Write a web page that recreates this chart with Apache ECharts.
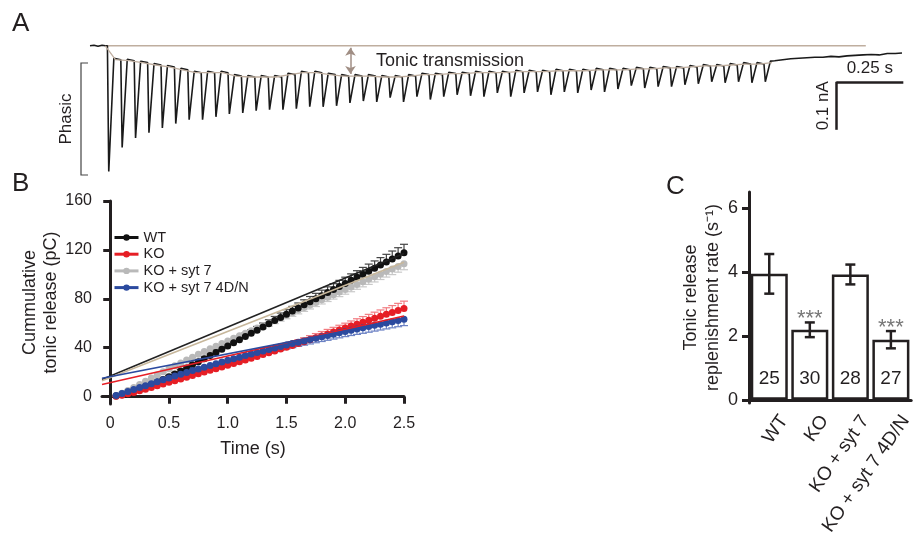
<!DOCTYPE html>
<html>
<head>
<meta charset="utf-8">
<style>html,body{margin:0;padding:0;background:#fff}#main{width:921px;height:544px}</style>
<script src="https://cdn.jsdelivr.net/npm/echarts@6/dist/echarts.min.js"></script>
</head>
<body>
<div id="main"></div>
<script>
const FONT = 'Liberation Sans, Arial, Helvetica, sans-serif'
const INK = '#231f20'
const TAN = '#bfae9f'

// ---- A: 20 Hz train, 50 stimuli (s, pA) ----
const stimTimes = [0, 0.05, 0.1, 0.15, 0.2, 0.25, 0.3, 0.35, 0.4, 0.45, 0.5, 0.55, 0.6, 0.65, 0.7, 0.75, 0.8, 0.85, 0.9, 0.95,
  1, 1.05, 1.1, 1.15, 1.2, 1.25, 1.3, 1.35, 1.4, 1.45, 1.5, 1.55, 1.6, 1.65, 1.7, 1.75, 1.8, 1.85, 1.9, 1.95,
  2, 2.05, 2.1, 2.15, 2.2, 2.25, 2.3, 2.35, 2.4, 2.45]
const peakAmps = [-262, -212, -192, -181, -171, -162, -154, -154, -148, -142, -140, -135, -133, -133, -131, -127, -127, -125, -119, -115,
  -117, -108, -117, -106, -112, -106, -102, -104, -106, -98, -106, -98, -96, -102, -96, -98, -92, -96, -90, -83,
  -88, -85, -85, -81, -79, -75, -77, -75, -77, -75]
const tonicAmps = [-29, -31, -35, -40, -44, -50, -56, -56, -56, -63, -65, -65, -65, -60, -56, -56, -60, -63, -63, -63,
  -65, -65, -63, -60, -60, -58, -58, -56, -56, -56, -54, -54, -54, -52, -52, -52, -50, -50, -50, -48,
  -48, -46, -46, -44, -42, -42, -40, -38, -38, -35]
const baselineTrace = [[-0.065, 0], [-0.05, 1], [-0.035, -1], [-0.02, 1], [-0.008, 0]]
const recoveryTrace = [[2.49, -31], [2.52, -29], [2.55, -27], [2.58, -26], [2.61, -25], [2.64, -24], [2.67, -24], [2.7, -22],
  [2.73, -23], [2.76, -21], [2.79, -20], [2.82, -19], [2.85, -18], [2.88, -19], [2.91, -16], [2.94, -16], [2.965, -15]]
const scaleTime = 0.25
const scaleCurrent = 100

// ---- B: cumulative tonic release (pC) ----
const bTimes = [0.05, 0.1, 0.15, 0.2, 0.25, 0.3, 0.35, 0.4, 0.45, 0.5, 0.55, 0.6, 0.65, 0.7, 0.75, 0.8, 0.85, 0.9, 0.95, 1,
  1.05, 1.1, 1.15, 1.2, 1.25, 1.3, 1.35, 1.4, 1.45, 1.5, 1.55, 1.6, 1.65, 1.7, 1.75, 1.8, 1.85, 1.9, 1.95, 2,
  2.05, 2.1, 2.15, 2.2, 2.25, 2.3, 2.35, 2.4, 2.45, 2.5]
const wtCum = [0.5, 1.6, 3.0, 4.6, 6.3, 8.1, 10.0, 12.0, 14.1, 16.3, 18.6, 21.0, 23.5, 26.0, 28.5, 31.0, 33.6, 36.2, 38.8, 41.4,
  44.0, 46.6, 49.2, 51.8, 54.4, 57.0, 59.6, 62.2, 64.8, 67.4, 70.0, 72.6, 75.1, 77.6, 80.1, 82.6, 85.1, 87.6, 90.1, 92.6,
  95.1, 97.6, 100.1, 102.6, 105.1, 107.6, 110.1, 112.6, 115.1, 117.6]
const koCum = [0.3, 1.2, 2.3, 3.5, 4.8, 6.1, 7.5, 8.9, 10.3, 11.7, 13.1, 14.5, 15.9, 17.3, 18.7, 20.1, 21.5, 22.9, 24.3, 25.7,
  27.1, 28.5, 29.9, 31.4, 32.9, 34.4, 35.9, 37.4, 38.9, 40.4, 41.9, 43.4, 44.9, 46.5, 48.1, 49.7, 51.3, 52.9, 54.5, 56.1,
  57.7, 59.3, 60.9, 62.5, 64.1, 65.7, 67.3, 68.9, 70.5, 72.1]
const syt7Cum = [1.0, 2.8, 5.0, 7.4, 10.0, 12.6, 15.2, 17.8, 20.3, 22.8, 25.2, 27.6, 30.0, 32.3, 34.6, 36.9, 39.1, 41.3, 43.5, 45.6,
  47.7, 49.8, 51.9, 54.0, 56.1, 58.2, 60.3, 62.4, 64.5, 66.6, 68.7, 70.8, 72.9, 75.0, 77.1, 79.2, 81.3, 83.4, 85.5, 87.6,
  89.7, 91.8, 93.9, 96.0, 98.1, 100.2, 102.3, 104.4, 106.5, 108.6]
const dnCum = [1.0, 2.6, 4.2, 5.8, 7.4, 9.0, 10.6, 12.2, 13.8, 15.3, 16.8, 18.3, 19.8, 21.3, 22.7, 24.1, 25.5, 26.9, 28.3, 29.7,
  31.0, 32.3, 33.6, 34.9, 36.2, 37.4, 38.6, 39.8, 41.0, 42.2, 43.4, 44.5, 45.6, 46.7, 47.8, 48.9, 50.0, 51.1, 52.2, 53.3,
  54.3, 55.3, 56.3, 57.3, 58.3, 59.3, 60.3, 61.3, 62.3, 63.3]
const wtSem = [0.3, 0.4, 0.5, 0.6, 0.7, 0.8, 0.9, 1.0, 1.1, 1.2, 1.3, 1.4, 1.6, 1.7, 1.8, 1.9, 2.0, 2.2, 2.3, 2.4,
  2.5, 2.7, 2.8, 2.9, 3.0, 3.2, 3.3, 3.4, 3.6, 3.7, 3.8, 4.0, 4.1, 4.3, 4.4, 4.5, 4.7, 4.8, 5.0, 5.1,
  5.3, 5.4, 5.6, 5.8, 5.9, 6.1, 6.3, 6.5, 6.7, 7.0]
const koSem = [0.2, 0.3, 0.3, 0.4, 0.5, 0.6, 0.7, 0.8, 0.9, 1.0, 1.1, 1.2, 1.3, 1.4, 1.5, 1.6, 1.7, 1.8, 1.9, 2.0,
  2.1, 2.2, 2.3, 2.4, 2.5, 2.6, 2.7, 2.8, 2.9, 3.0, 3.1, 3.2, 3.3, 3.4, 3.5, 3.6, 3.7, 3.8, 3.9, 4.0,
  4.2, 4.4, 4.6, 4.8, 5.0, 5.2, 5.4, 5.6, 5.8, 6.0]
const syt7Sem = [0.3, 0.4, 0.5, 0.6, 0.7, 0.8, 0.9, 1.0, 1.0, 1.1, 1.2, 1.3, 1.4, 1.5, 1.6, 1.7, 1.8, 1.9, 2.0, 2.0,
  2.1, 2.2, 2.3, 2.4, 2.5, 2.6, 2.7, 2.7, 2.8, 2.9, 3.0, 3.1, 3.2, 3.3, 3.4, 3.4, 3.5, 3.6, 3.7, 3.8,
  3.9, 4.0, 4.1, 4.2, 4.3, 4.4, 4.5, 4.6, 4.7, 4.8]
const dnSem = [0.3, 0.4, 0.5, 0.6, 0.7, 0.8, 0.9, 1.0, 1.1, 1.2, 1.3, 1.4, 1.5, 1.6, 1.7, 1.8, 1.9, 2.0, 2.1, 2.2,
  2.3, 2.4, 2.5, 2.6, 2.7, 2.8, 2.9, 3.0, 3.1, 3.2, 3.3, 3.4, 3.5, 3.6, 3.7, 3.8, 3.9, 4.0, 4.1, 4.2,
  4.3, 4.4, 4.5, 4.6, 4.7, 4.8, 4.9, 5.0, 5.1, 5.2]
// linear fits, end points [t, pC]
const wtFit = [[-0.07, 14], [2.5, 117]]
const syt7Fit = [[-0.07, 13], [2.5, 110]]
const koFit = [[-0.07, 10], [2.5, 66]]
const dnFit = [[-0.07, 15], [2.5, 63]]
const bTicksX = [0, 0.5, 1, 1.5, 2, 2.5]
const bTicksY = [0, 40, 80, 120, 160]

// ---- C: replenishment rate ----
const cCats = ['WT', 'KO', 'KO + syt 7', 'KO + syt 7 4D/N']
const rateMean = [3.94, 2.19, 3.92, 1.88]
const rateSem = [0.62, 0.23, 0.31, 0.27]
const cellN = [25, 30, 28, 27]
const sigMarks = ['', '***', '', '***']
const cTicksY = [0, 2, 4, 6]

// build the trace: drop to each peak, relax back to the tonic level
const traceData = baselineTrace.slice()
let prevLevel = 0
stimTimes.forEach(function (t, i) {
  traceData.push([t, prevLevel], [t + 0.005, peakAmps[i]], [t + 0.024, tonicAmps[i] + 3], [t + 0.03, tonicAmps[i]])
  prevLevel = tonicAmps[i]
})
traceData.push.apply(traceData, recoveryTrace)
const envelope = [[-0.008, 0]].concat(stimTimes.map((t, i) => [t + 0.03, tonicAmps[i]]))

const chart = echarts.init(document.getElementById('main'))

function pairs (ys) { return bTimes.map((t, i) => [t, ys[i]]) }

function cumSeries (name, ys, color, z) {
  return {
    name: name, type: 'line', xAxisIndex: 1, yAxisIndex: 1, z: z,
    data: pairs(ys), symbol: 'circle', symbolSize: 7,
    lineStyle: { color: color, width: 1.5 }, itemStyle: { color: color }
  }
}

function errSeries (ys, errs, dir, color, z) {
  return {
    type: 'custom', xAxisIndex: 1, yAxisIndex: 1, z: z, silent: true,
    data: bTimes.map((t, i) => [t, ys[i], ys[i] + dir * errs[i]]),
    encode: { x: 0, y: [1, 2] },
    renderItem: function (params, api) {
      const a = api.coord([api.value(0), api.value(1)])
      const b = api.coord([api.value(0), api.value(2)])
      return {
        type: 'group',
        children: [
          { type: 'line', shape: { x1: a[0], y1: a[1], x2: b[0], y2: b[1] }, style: { stroke: color, lineWidth: 1.2 } },
          { type: 'line', shape: { x1: b[0] - 4, y1: b[1], x2: b[0] + 4, y2: b[1] }, style: { stroke: color, lineWidth: 1.2 } }
        ]
      }
    }
  }
}

function fitSeries (pts, color) {
  return {
    type: 'line', xAxisIndex: 1, yAxisIndex: 1, z: 6, silent: true,
    data: pts, showSymbol: false, lineStyle: { color: color, width: 1.6 }
  }
}

const axisLine = { lineStyle: { color: INK, width: 3 } }
const tickStyle = { lineStyle: { color: INK, width: 3 } }
const labelBase = { color: INK, fontFamily: FONT }

chart.setOption({
  animation: false,
  textStyle: { fontFamily: FONT },
  grid: [
    { left: 90, top: 41, width: 816, height: 144 },
    { left: 102, top: 201, width: 302, height: 203 },
    { left: 749, top: 192, width: 171, height: 211 }
  ],
  xAxis: [
    { gridIndex: 0, type: 'value', min: -0.065, max: 2.98, show: false },
    {
      gridIndex: 1, type: 'value', min: -0.07, max: 2.5,
      axisLine: axisLine, splitLine: { show: false },
      axisTick: Object.assign({ length: 7, customValues: bTicksX }, tickStyle),
      axisLabel: Object.assign({ fontSize: 16, margin: 12, customValues: bTicksX,
        formatter: v => v === 0 ? '0' : v.toFixed(1) }, labelBase),
      name: 'Time (s)', nameLocation: 'middle', nameGap: 36,
      nameTextStyle: Object.assign({ fontSize: 18 }, labelBase)
    },
    {
      gridIndex: 2, type: 'category', data: cCats,
      axisLine: axisLine,
      axisTick: Object.assign({ length: 9, alignWithLabel: false }, tickStyle),
      axisLabel: Object.assign({ fontSize: 19, rotate: 55, margin: 4, interval: 0, verticalAlign: 'top', lineHeight: 36 }, labelBase)
    }
  ],
  yAxis: [
    { gridIndex: 0, type: 'value', min: -290, max: 10, show: false },
    {
      gridIndex: 1, type: 'value', min: -6, max: 160,
      axisLine: Object.assign({ show: true }, axisLine), splitLine: { show: false },
      axisTick: Object.assign({ show: true, length: 7, customValues: bTicksY }, tickStyle),
      axisLabel: Object.assign({ fontSize: 16, margin: 10, customValues: bTicksY }, labelBase),
      name: 'Cummulative\ntonic release (pC)', nameLocation: 'middle', nameGap: 33,
      nameTextStyle: Object.assign({ fontSize: 18, lineHeight: 21 }, labelBase)
    },
    {
      gridIndex: 2, type: 'value', min: -0.1, max: 6.5,
      axisLine: Object.assign({ show: true }, axisLine), splitLine: { show: false },
      axisTick: Object.assign({ show: true, length: 7, customValues: cTicksY }, tickStyle),
      axisLabel: Object.assign({ fontSize: 18, margin: 11, customValues: cTicksY }, labelBase),
      name: 'Tonic release\nreplenishment rate (s⁻¹)', nameLocation: 'middle', nameGap: 24,
      nameTextStyle: Object.assign({ fontSize: 18, lineHeight: 22 }, labelBase)
    }
  ],
  legend: {
    data: ['WT', 'KO', 'KO + syt 7', 'KO + syt 7 4D/N'],
    orient: 'vertical', left: 113, top: 230, padding: 0,
    itemWidth: 24, itemHeight: 8, itemGap: 1.7,
    lineStyle: { width: 3 },
    textStyle: Object.assign({ fontSize: 14.5 }, labelBase)
  },
  graphic: [
    { type: 'text', left: 12, top: 11, style: { text: 'A', fontSize: 26, fill: INK, fontFamily: FONT } },
    { type: 'text', left: 12, top: 171, style: { text: 'B', fontSize: 26, fill: INK, fontFamily: FONT } },
    { type: 'text', left: 666, top: 174, style: { text: 'C', fontSize: 26, fill: INK, fontFamily: FONT } },
    { type: 'text', x: 376, y: 61, style: { text: 'Tonic transmission', fontSize: 18, fill: INK, fontFamily: FONT, verticalAlign: 'middle' } },
    { type: 'text', x: 66, y: 119, rotation: Math.PI / 2, style: { text: 'Phasic', fontSize: 17, fill: INK, fontFamily: FONT, align: 'center', verticalAlign: 'middle' } },
    { type: 'polyline', shape: { points: [[88, 63], [81, 63], [81, 175], [88, 175]] }, style: { stroke: '#444', lineWidth: 1.2, fill: null } }
  ],
  series: [
    // A
    {
      type: 'line', xAxisIndex: 0, yAxisIndex: 0, silent: true, z: 2,
      data: [[-0.008, 0], [2.83, 0]], showSymbol: false, lineStyle: { color: TAN, width: 1.5 }
    },
    {
      type: 'line', xAxisIndex: 0, yAxisIndex: 0, silent: true, z: 4,
      data: envelope, showSymbol: false, lineStyle: { color: TAN, width: 1.3 },
      markLine: {
        silent: true, symbol: ['arrow', 'arrow'], symbolSize: 8,
        lineStyle: { color: '#a08e84', width: 1.5, type: 'solid' }, label: { show: false },
        data: [[{ coord: [0.907, -4] }, { coord: [0.907, -59] }]]
      }
    },
    {
      type: 'line', xAxisIndex: 0, yAxisIndex: 0, silent: true, z: 3,
      data: traceData, showSymbol: false, lineStyle: { color: '#1a1a1a', width: 1.6 },
      markLine: {
        silent: true, symbol: 'none',
        lineStyle: { color: INK, width: 2.5, type: 'solid' },
        label: { fontSize: 17, color: INK, fontFamily: FONT },
        data: [
          [{ coord: [2.72, -75], label: { formatter: '0.25 s', position: 'insideMiddleTop' } }, { coord: [2.72 + scaleTime, -75] }],
          [{ coord: [2.72, -75 - scaleCurrent], label: { formatter: '0.1 nA', position: 'insideMiddleTop' } }, { coord: [2.72, -75] }]
        ]
      }
    },
    // B
    errSeries(syt7Cum, syt7Sem, -1, '#c9c9c9', 2),
    cumSeries('KO + syt 7', syt7Cum, '#b9b9b9', 3),
    errSeries(wtCum, wtSem, 1, '#444', 2),
    cumSeries('WT', wtCum, '#111', 3),
    errSeries(koCum, koSem, 1, '#f27b80', 2),
    cumSeries('KO', koCum, '#e61e25', 3),
    errSeries(dnCum, dnSem, -1, '#6c82c4', 2),
    cumSeries('KO + syt 7 4D/N', dnCum, '#2b4a9f', 3),
    fitSeries(wtFit, '#222'),
    fitSeries(syt7Fit, '#c7b79b'),
    fitSeries(koFit, '#e61e25'),
    fitSeries(dnFit, '#2b4a9f'),
    // C
    {
      type: 'bar', xAxisIndex: 2, yAxisIndex: 2, barWidth: 37, silent: true,
      data: rateMean,
      itemStyle: { color: '#fff', borderColor: INK, borderWidth: 2.5 },
      label: {
        show: true, position: 'insideBottom', distance: 12, fontSize: 19, color: INK, fontFamily: FONT,
        formatter: p => String(cellN[p.dataIndex])
      }
    },
    {
      type: 'custom', xAxisIndex: 2, yAxisIndex: 2, silent: true, z: 5,
      data: rateMean.map((m, i) => [i, m - rateSem[i], m + rateSem[i]]),
      encode: { x: 0, y: [1, 2] },
      renderItem: function (params, api) {
        const lo = api.coord([api.value(0), api.value(1)])
        const hi = api.coord([api.value(0), api.value(2)])
        const st = { stroke: INK, lineWidth: 2.5 }
        const kids = [
          { type: 'line', shape: { x1: lo[0], y1: lo[1], x2: hi[0], y2: hi[1] }, style: st },
          { type: 'line', shape: { x1: lo[0] - 5, y1: lo[1], x2: lo[0] + 5, y2: lo[1] }, style: st },
          { type: 'line', shape: { x1: hi[0] - 5, y1: hi[1], x2: hi[0] + 5, y2: hi[1] }, style: st }
        ]
        const s = sigMarks[params.dataIndex]
        if (s) {
          kids.push({ type: 'text', style: { text: s, x: hi[0], y: hi[1] + 8, align: 'center', verticalAlign: 'bottom', fontSize: 22, fill: '#777', fontFamily: FONT } })
        }
        return { type: 'group', children: kids }
      }
    }
  ]
})
</script>
</body>
</html>
